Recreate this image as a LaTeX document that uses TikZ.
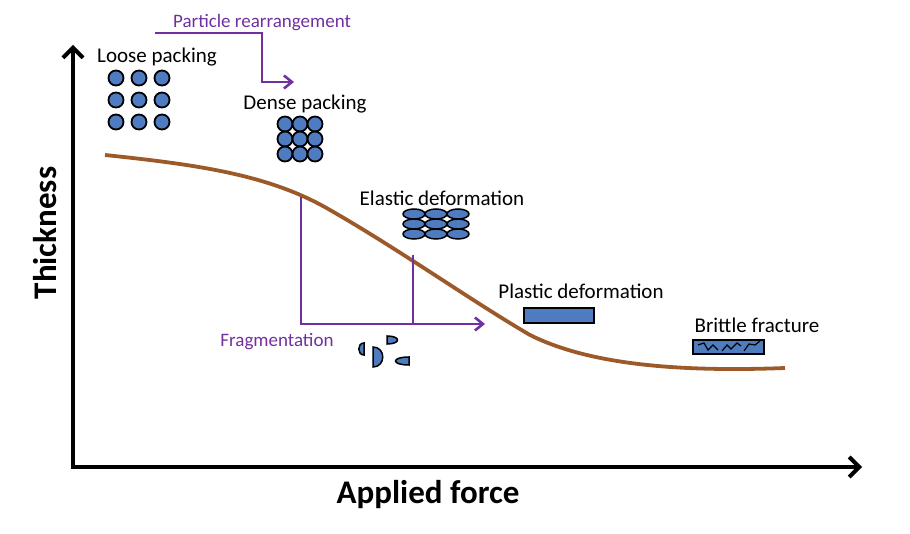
\documentclass[tikz,border=0pt]{standalone}
\usepackage{fontspec}
\setmainfont{Carlito}
\usetikzlibrary{arrows.meta}
\definecolor{pfill}{HTML}{4F7CC0}
\definecolor{pur}{HTML}{7030A0}
\definecolor{brn}{HTML}{9C5A2A}
\begin{document}
\begin{tikzpicture}[x=1pt,y=-1pt,
  part/.style={draw=black,line width=1.8pt,fill=pfill},
  lbl/.style={font=\fontsize{21}{24}\selectfont},
  plbl/.style={font=\fontsize{19}{22}\selectfont,text=pur},
  parr/.style={draw=pur,line width=2.6pt,-{Straight Barb[length=8pt,width=13pt]}},
  pline/.style={draw=pur,line width=2.6pt},
  axis/.style={line width=4pt,-{Straight Barb[length=10pt,width=20pt]}}]
\useasboundingbox (0,0) rectangle (910,534);
% axes
\coordinate (o) at (73,467);
\coordinate (ytop) at (73,45);
\coordinate (xend) at (862,467);
\draw[axis] (o) -- (ytop);
\draw[axis] ([xshift=-2pt]o) -- (xend);
\node[font=\bfseries\fontsize{33}{36}\selectfont,rotate=90] (ylab) at (45,233) {Thickness};
\node[font=\bfseries\fontsize{33}{36}\selectfont] (xlab) at (428,495) {Applied force};
% curve
\draw[brn,line width=3.8pt] (105,155) .. controls (200,165) and (270,175) .. (330,210)
  .. controls (400,250) and (470,300) .. (530,335)
  .. controls (590,365) and (680,372) .. (785,368);
% particle rearrangement
\node[plbl] (pr) at (262,23) {Particle rearrangement};
\coordinate (pa) at (155,33);
\coordinate (pb) at (262,33);
\coordinate (pc) at (262,82);
\coordinate (pd) at (294,82);
\draw[parr] (pa) -- (pb) -- (pc) -- (pd);
% loose packing
\node[lbl] (lp) at (157,57) {Loose packing};
\foreach \i in {116,139,162}{\foreach \j in {78,100,122}{\draw[part] (\i,\j) circle (7.5);}}
% dense packing
\node[lbl] (dp) at (305,104) {Dense packing};
\foreach \i in {285,300,315}{\foreach \j in {124,139,154}{\draw[part] (\i,\j) circle (7.5);}}
% elastic
\node[lbl] (ed) at (442,198) {Elastic deformation};
\foreach \i in {414,436,458}{\foreach \j in {214,224,234}{\draw[part,line width=1.5pt] (\i,\j) ellipse (11 and 5);}}
% fragmentation
\coordinate (f1) at (301,197);
\coordinate (f2) at (301,324);
\coordinate (f3) at (485,324);
\coordinate (f4) at (413,255);
\coordinate (f5) at (413,324);
\draw[pline] (f1) -- (f2);
\draw[parr] ([xshift=-1.3pt]f2) -- (f3);
\draw[pline] (f4) -- (f5);
\node[plbl] (fr) at (277,342) {Fragmentation};
\draw[part,line width=1.5pt] (364,343) .. controls (357,343) and (357,355) .. (364,355) -- cycle;
\draw[part,line width=1.5pt] (373,347) .. controls (386,347) and (386,367) .. (373,367) -- cycle;
\draw[part,line width=1.5pt] (387,336) .. controls (401,336) and (401,344) .. (387,344) -- cycle;
\draw[part,line width=1.5pt] (409,357) .. controls (391,357) and (391,365) .. (409,365) -- cycle;
% plastic
\node[lbl] (pdf) at (581,291) {Plastic deformation};
\draw[part] (524,308) rectangle (594,323);
% brittle
\node[lbl] (bf) at (757,325) {Brittle fracture};
\draw[part] (693,340) rectangle (764,354);
\draw[line width=1.2pt] (698,345) -- (704,343) -- (708,350) -- (713,345) -- (718,350)
  (722,351) -- (727,345) -- (731,349) -- (737,343) -- (741,346) (744,351) -- (749,344) -- (755,345) -- (760,341);
\end{tikzpicture}
\end{document}
